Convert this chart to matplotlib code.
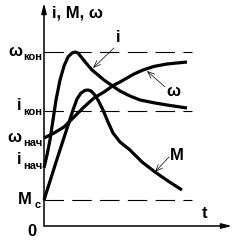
import matplotlib
matplotlib.use("Agg")
import matplotlib.pyplot as plt

plt.rcParams["font.family"] = ["Liberation Sans Narrow", "Liberation Sans", "DejaVu Sans"]
plt.rcParams["font.weight"] = "bold"
plt.rcParams["lines.scale_dashes"] = False

# levels (arbitrary units)
W_END = 87.0    # omega_кон
I_END = 57.5    # i_кон
M_C = 13.0      # M_c
W_START = 44.0  # omega_нач
I_START = 29.0  # i_нач

# current i(t)
i_t = [0, 1.5, 3, 4.5, 6, 8, 10, 12, 14, 15.5, 17, 19, 21, 24, 27, 30, 35, 38, 43, 48, 55.5, 61.5, 71.5]
i_v = [29, 35.5, 43, 53, 63, 73, 80, 84.5, 86.5, 87, 86.5, 84, 81.5, 78, 75.5, 73, 69.5, 67.5, 65, 63, 61.5, 60.5, 59]

# speed w(t)
w_t = [0, 5, 10, 15, 20, 25, 30, 35, 38, 45, 49.5, 55, 61.5, 71.5]
w_v = [44, 46.5, 49.5, 54.5, 59.5, 64, 67, 70.5, 72, 76, 78, 79.8, 81, 82]

# torque M(t)
m_t = [0, 7, 14.5, 16.5, 18.5, 20.5, 22, 23.5, 25, 27, 29.5, 32, 34.5, 38, 43, 49, 55.5, 62, 69]
m_v = [13, 35, 58, 63.5, 66.5, 67.8, 68, 67.5, 66, 63, 58, 52, 46.5, 42, 38, 32, 27, 22.5, 18]

T_MAX = 74     # end of dashed levels
X_AXIS_END = 94
Y_AXIS_END = 111.5

fig = plt.figure(figsize=(2.41, 2.46), dpi=100)
ax = fig.add_axes([0, 0, 1, 1])
ax.set_xlim(-22, 98.5)
ax.set_ylim(-10, 113)
ax.axis("off")

# axes with arrows
ax.annotate("", xy=(0, Y_AXIS_END), xytext=(0, 0),
            arrowprops=dict(arrowstyle="-|>,head_length=0.6,head_width=0.15",
                            lw=1.1, color="black", shrinkA=0, shrinkB=0))
ax.annotate("", xy=(X_AXIS_END, 0), xytext=(0, 0),
            arrowprops=dict(arrowstyle="-|>,head_length=0.6,head_width=0.15",
                            lw=1.1, color="black", shrinkA=0, shrinkB=0))

# dashed levels
for lv in (W_END, I_END, M_C):
    ax.plot([0, T_MAX], [lv, lv], color="black", lw=0.8, dashes=(14, 6))

# curves
for tt, vv in ((i_t, i_v), (w_t, w_v), (m_t, m_v)):
    ax.plot(tt, vv, color="black", lw=2.3, solid_joinstyle="round",
            solid_capstyle="butt")

fs = 12
fs_sub = 8

ax.text(4, 106.5, "i, M, ω", fontsize=fs, ha="left", va="center")

# left labels
ax.text(-14.5, W_END, "ω", fontsize=fs, ha="center", va="center")
ax.text(-10.5, W_END - 2.5, "кон", fontsize=fs_sub, ha="left", va="center")
ax.text(-12.5, I_END + 2.5, "i", fontsize=fs, ha="center", va="center")
ax.text(-10.5, I_END - 0.5, "кон", fontsize=fs_sub, ha="left", va="center")
ax.text(-15, W_START + 0.5, "ω", fontsize=fs, ha="center", va="center")
ax.text(-10.5, W_START - 2.5, "нач", fontsize=fs_sub, ha="left", va="center")
ax.text(-12.5, I_START + 4, "i", fontsize=fs, ha="center", va="center")
ax.text(-10.5, I_START + 1, "нач", fontsize=fs_sub, ha="left", va="center")
ax.text(-9.5, M_C + 0.5, "M", fontsize=fs, ha="center", va="center")
ax.text(-4.5, M_C - 2.5, "с", fontsize=fs_sub, ha="left", va="center")
ax.text(-6, -2.5, "0", fontsize=fs, ha="center", va="center")
ax.text(80.5, 6, "t", fontsize=fs, ha="center", va="center")

# curve labels with pointers
ap = dict(arrowstyle="->,head_length=0.5,head_width=0.2", lw=0.5, color="black",
          shrinkA=0, shrinkB=0)
ax.text(37, 94, "i", fontsize=fs, ha="center", va="center")
ax.annotate("", xy=(24.5, 79), xytext=(35, 89), arrowprops=ap)
ax.text(64.5, 67, "ω", fontsize=fs, ha="center", va="center")
ax.annotate("", xy=(51.5, 77.5), xytext=(60.5, 69.5), arrowprops=ap)
ax.text(66.5, 35.5, "M", fontsize=fs, ha="center", va="center")
ax.annotate("", xy=(55.5, 27), xytext=(62.5, 34.5), arrowprops=ap)

fig.savefig("out.png", dpi=100)
